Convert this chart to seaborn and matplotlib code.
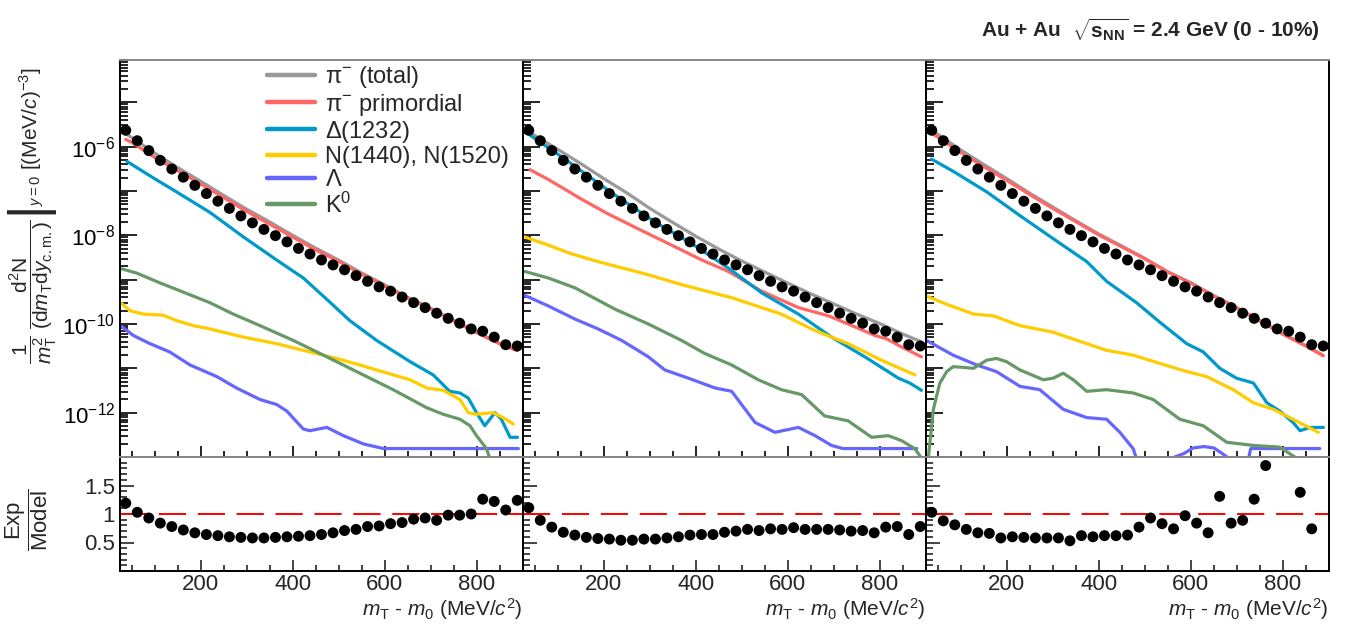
import matplotlib
matplotlib.use("Agg")
import matplotlib.pyplot as plt
import matplotlib.ticker as mticker
from matplotlib.lines import Line2D
import numpy as np
import seaborn as sns

# ---------------- data ----------------
mt_points = [37.5 + 25 * i for i in range(35)]
exp_yield = [2.34e-6, 1.36e-6, 8.15e-7, 4.89e-7, 3.13e-7, 2.05e-7, 1.34e-7, 8.73e-8,
             5.89e-8, 4.05e-8, 2.74e-8, 1.91e-8, 1.36e-8, 9.84e-9, 7.11e-9, 5.06e-9,
             3.78e-9, 2.78e-9, 2.15e-9, 1.67e-9, 1.23e-9, 9.18e-10, 6.87e-10, 5.51e-10,
             4.05e-10, 3.03e-10, 2.34e-10, 1.75e-10, 1.34e-10, 1.04e-10, 7.74e-11,
             6.87e-11, 5.06e-11, 3.41e-11, 3.19e-11]

ratio_left = [1.19, 1.03, 0.93, 0.84, 0.78, 0.72, 0.67, 0.64, 0.62, 0.60, 0.59, 0.58,
              0.58, 0.59, 0.60, 0.61, 0.62, 0.64, 0.67, 0.71, 0.73, 0.78, 0.79, 0.83,
              0.85, 0.91, 0.93, 0.89, 0.98, 0.98, 1.00, 1.26, 1.22, 1.07, 1.24]
ratio_mid = [1.11, 0.89, 0.77, 0.68, 0.63, 0.59, 0.57, 0.56, 0.54, 0.54, 0.56, 0.56,
             0.58, 0.60, 0.63, 0.64, 0.64, 0.68, 0.70, 0.73, 0.71, 0.74, 0.73, 0.76,
             0.73, 0.73, 0.73, 0.72, 0.70, 0.71, 0.67, 0.77, 0.78, 0.64, 0.78]
ratio_right = [1.03, 0.88, 0.81, 0.73, 0.67, 0.66, 0.58, 0.60, 0.59, 0.58, 0.58, 0.58,
               0.53, 0.62, 0.60, 0.62, 0.62, 0.63, 0.77, 0.93, 0.83, 0.74, 0.97, 0.84,
               0.67, 1.31, 0.84, 0.89, 1.26, 1.85, np.nan, np.nan, 1.38, 0.74, np.nan]

mt_grid = [37.5, 50, 100, 150, 200, 250, 300, 350, 400, 450, 500, 550, 600, 650,
           700, 750, 800, 850, 887.5]

# left panel model
left_total = [1.97e-6, 1.62e-6, 7.14e-7, 3.38e-7, 1.66e-7, 7.94e-8, 3.89e-8, 2.00e-8,
              1.00e-8, 5.13e-9, 2.75e-9, 1.41e-9, 7.59e-10, 3.98e-10, 2.24e-10,
              1.20e-10, 6.46e-11, 3.63e-11, 2.57e-11]
left_prim = [1.45e-6, 1.26e-6, 5.75e-7, 2.88e-7, 1.45e-7, 7.08e-8, 3.47e-8, 1.78e-8,
             9.12e-9, 4.68e-9, 2.57e-9, 1.32e-9, 7.24e-10, 3.80e-10, 2.19e-10,
             1.17e-10, 6.31e-11, 3.55e-11, 2.51e-11]
left_delta_x = [40, 97, 148, 220, 293, 365, 423, 474, 524, 582, 655, 705, 741, 763, 781,
                799, 817, 839, 853, 872, 888]
left_delta = [4.65e-7, 1.98e-7, 9.51e-8, 3.30e-8, 9.18e-9, 2.78e-9, 1.09e-9, 3.60e-10,
              1.19e-10, 4.27e-11, 1.41e-11, 7.11e-12, 3.03e-12, 2.78e-12, 2.15e-12,
              1.00e-12, 5.06e-13, 1.00e-12, 7.11e-13, 2.78e-13, 2.78e-13]
left_nstar_x = [29, 47, 76, 119, 148, 184, 220, 293, 365, 408, 437, 495, 546, 582, 655,
                691, 727, 763, 781, 799, 835, 857, 879]
left_nstar = [2.88e-10, 1.98e-10, 1.67e-10, 1.58e-10, 1.19e-10, 9.18e-11, 7.74e-11,
              5.06e-11, 3.60e-11, 2.78e-11, 2.34e-11, 1.67e-11, 1.19e-11, 9.18e-12,
              5.51e-12, 3.60e-12, 3.19e-12, 1.98e-12, 1.00e-12, 9.18e-13, 1.00e-12,
              7.74e-13, 5.51e-13]
left_lambda_x = [29, 54, 90, 133, 177, 235, 278, 329, 365, 387, 423, 437, 474, 510, 553,
                 597, 620, 890]
left_lambda = [8.73e-11, 5.51e-11, 3.60e-11, 2.34e-11, 1.19e-11, 6.53e-12, 3.60e-12,
               1.98e-12, 1.53e-12, 1.09e-12, 4.27e-13, 3.92e-13, 4.65e-13, 3.03e-13,
               1.98e-13, 1.55e-13, 1.55e-13, 1.55e-13]
left_k0_x = [29, 61, 112, 148, 220, 271, 329, 401, 474, 546, 618, 691, 727, 763, 785,
             799, 821, 835]
left_k0 = [1.75e-9, 1.41e-9, 8.43e-10, 6.00e-10, 3.03e-10, 1.67e-10, 9.18e-11, 4.27e-11,
           1.82e-11, 7.74e-12, 3.30e-12, 1.29e-12, 9.18e-13, 7.11e-13, 5.06e-13,
           3.03e-13, 1.53e-13, 5.5e-14]

# middle panel model
mid_total = [2.11e-6, 1.80e-6, 8.71e-7, 4.17e-7, 1.91e-7, 9.12e-8, 4.07e-8, 1.95e-8,
             9.55e-9, 4.90e-9, 2.63e-9, 1.48e-9, 8.32e-10, 4.79e-10, 2.82e-10,
             1.66e-10, 1.02e-10, 5.89e-11, 4.07e-11]
mid_prim_x = [40, 80, 152, 210, 282, 355, 413, 471, 543, 623, 688, 731, 789, 814, 847, 890]
mid_prim = [3.03e-7, 1.82e-7, 6.53e-8, 3.03e-8, 1.29e-8, 5.51e-9, 2.78e-9, 1.53e-9,
            5.51e-10, 2.34e-10, 1.53e-10, 1.00e-10, 5.51e-11, 4.65e-11, 3.03e-11, 1.82e-11]
mid_delta_x = [40, 116, 217, 312, 391, 471, 543, 623, 695, 767, 840, 865, 890]
mid_delta = [1.82e-6, 5.24e-7, 9.18e-8, 1.98e-8, 6.53e-9, 1.82e-9, 5.06e-10, 1.67e-10,
             5.06e-11, 1.82e-11, 6.00e-12, 4.65e-12, 3.19e-12]
mid_nstar_x = [29, 80, 127, 188, 297, 369, 478, 586, 659, 731, 803, 876]
mid_nstar = [9.18e-9, 6.00e-9, 3.92e-9, 2.55e-9, 1.29e-9, 7.74e-10, 3.92e-10, 1.67e-10,
             7.11e-11, 3.60e-11, 1.53e-11, 7.11e-12]
mid_lambda_x = [29, 80, 138, 188, 239, 297, 333, 384, 442, 478, 529, 572, 623, 659, 695,
                720, 880]
mid_lambda = [4.41e-10, 2.55e-10, 1.29e-10, 7.74e-11, 4.27e-11, 1.82e-11, 9.18e-12,
              6.00e-12, 3.60e-12, 3.03e-12, 6.00e-13, 3.60e-13, 4.65e-13, 3.03e-13,
              1.82e-13, 1.55e-13, 1.55e-13]
mid_k0_x = [29, 80, 138, 225, 297, 369, 420, 478, 536, 586, 630, 680, 731, 782, 818,
            847, 876, 895]
mid_k0 = [1.53e-9, 1.09e-9, 6.53e-10, 2.15e-10, 1.00e-10, 4.27e-11, 2.15e-11, 1.19e-11,
          5.51e-12, 3.30e-12, 2.55e-12, 8.43e-13, 6.53e-13, 2.78e-13, 3.03e-13,
          2.34e-13, 1.53e-13, 8e-14]

# right panel model
right_total = [2.29e-6, 1.91e-6, 8.51e-7, 3.98e-7, 1.91e-7, 8.91e-8, 4.37e-8, 2.14e-8,
               1.07e-8, 5.75e-9, 3.02e-9, 1.51e-9, 8.51e-10, 4.37e-10, 2.34e-10,
               1.20e-10, 6.03e-11, 3.24e-11, 1.95e-11]
right_prim = [2.00e-6, 1.66e-6, 7.41e-7, 3.55e-7, 1.74e-7, 8.32e-8, 4.07e-8, 2.04e-8,
              1.02e-8, 5.50e-9, 2.95e-9, 1.48e-9, 8.32e-10, 4.27e-10, 2.29e-10,
              1.17e-10, 5.89e-11, 3.16e-11, 1.91e-11]
right_delta_x = [37, 84, 157, 229, 301, 374, 417, 482, 533, 591, 627, 663, 699, 736,
                 765, 793, 822, 837, 859, 888]
right_delta = [5.24e-7, 2.78e-7, 9.51e-8, 2.78e-8, 8.43e-9, 2.55e-9, 9.18e-10, 3.03e-10,
               1.09e-10, 3.60e-11, 2.34e-11, 1.00e-11, 6.00e-12, 4.65e-12, 1.67e-12,
               1.09e-12, 6.00e-13, 3.92e-13, 4.65e-13, 4.65e-13]
right_nstar_x = [26, 70, 128, 171, 229, 301, 374, 417, 475, 533, 584, 634, 692, 736,
                 779, 822, 877]
right_nstar = [4.27e-10, 2.78e-10, 1.67e-10, 1.53e-10, 9.18e-11, 6.53e-11, 3.60e-11,
               2.55e-11, 1.98e-11, 1.29e-11, 8.87e-12, 6.53e-12, 3.30e-12, 1.67e-12,
               1.19e-12, 7.11e-13, 3.60e-13]
right_lambda_x = [26, 84, 135, 178, 229, 272, 323, 374, 417, 446, 475, 490, 585, 605,
                  628, 650, 668, 720, 730, 880]
right_lambda = [4.27e-11, 1.98e-11, 1.19e-11, 8.43e-12, 3.92e-12, 3.30e-12, 1.19e-12,
                7.74e-13, 7.11e-13, 3.60e-13, 1.53e-13, 5e-14, 1.2e-13, 1.6e-13, 1.72e-13,
                1.6e-13, 1.2e-13, 5e-14, 1.55e-13, 1.55e-13]
right_k0_x = [25, 41, 55, 70, 84, 106, 128, 157, 178, 200, 229, 280, 301, 323, 345, 374,
              417, 475, 518, 576, 627, 678, 736, 793, 840]
right_k0 = [3e-14, 1.19e-12, 4.65e-12, 8.43e-12, 1.09e-11, 1.05e-11, 1.00e-11, 1.53e-11,
            1.67e-11, 1.41e-11, 9.18e-12, 5.51e-12, 6.00e-12, 7.74e-12, 5.51e-12,
            3.03e-12, 3.30e-12, 2.78e-12, 1.98e-12, 7.11e-13, 5.06e-13, 2.15e-13,
            1.82e-13, 1.67e-13, 8e-14]

labels = [r"$\mathrm{\pi}^{-}$ (total)", r"$\mathrm{\pi}^{-}$ primordial", r"$\Delta$(1232)",
          "N(1440), N(1520)", r"$\Lambda$", r"K$^{0}$"]
colors = ["#999999", "#ff6666", "#0099cc", "#ffcc00", "#6666ff", "#669966"]

# ---------------- style ----------------
sns.set_theme(style="ticks")
plt.rcParams['font.family'] = ['Liberation Sans', 'DejaVu Sans']
plt.rcParams['mathtext.fontset'] = 'custom'
plt.rcParams['mathtext.rm'] = 'Liberation Sans'
plt.rcParams['mathtext.it'] = 'Liberation Sans:italic'
plt.rcParams['mathtext.bf'] = 'Liberation Sans:bold'

fig = plt.figure(figsize=(13.45, 6.25), dpi=100)

panels = [
    [(mt_grid, left_total), (mt_grid, left_prim), (left_delta_x, left_delta),
     (left_nstar_x, left_nstar), (left_lambda_x, left_lambda), (left_k0_x, left_k0)],
    [(mt_grid, mid_total), (mid_prim_x, mid_prim), (mid_delta_x, mid_delta),
     (mid_nstar_x, mid_nstar), (mid_lambda_x, mid_lambda), (mid_k0_x, mid_k0)],
    [(mt_grid, right_total), (mt_grid, right_prim), (right_delta_x, right_delta),
     (right_nstar_x, right_nstar), (right_lambda_x, right_lambda), (right_k0_x, right_k0)],
]
ratios = [ratio_left, ratio_mid, ratio_right]

W, H = 1345, 625
x0, pw = 120, 403
top_y0, top_y1 = 60, 457
bot_y1 = 571

for i in range(3):
    left = (x0 + i * pw) / W
    ax = fig.add_axes([left, 1 - top_y1 / H, pw / W, (top_y1 - top_y0) / H])
    rax = fig.add_axes([left, 1 - bot_y1 / H, pw / W, (bot_y1 - top_y1) / H])

    for (xs, ys), c in zip(panels[i], colors):
        sns.lineplot(x=xs, y=ys, ax=ax, color=c, lw=2.3, estimator=None, sort=False)
    sns.scatterplot(x=mt_points, y=exp_yield, ax=ax, color="black", s=62,
                    edgecolor="none", zorder=5)

    ax.set_yscale("log")
    ax.set_ylim(1.4e-13, 9e-5)
    ax.set_xlim(25, 900)
    ax.set_yticks([10.0 ** e for e in range(-13, -4)])
    ax.set_yticklabels(["" if e % 2 else r"$10^{%d}$" % e for e in range(-13, -4)]
                       if i == 0 else [""] * 9)
    ax.yaxis.set_minor_locator(mticker.LogLocator(base=10, subs=np.arange(2, 10), numticks=30))
    ax.yaxis.set_minor_formatter(mticker.NullFormatter())
    ax.xaxis.set_major_locator(mticker.MultipleLocator(200))
    ax.xaxis.set_minor_locator(mticker.MultipleLocator(50))
    ax.tick_params(axis="x", labelbottom=False)
    ax.tick_params(axis="both", which="both", direction="in", top=False, right=False,
                   labelsize=16, width=1.2, colors="black")
    ax.tick_params(axis="y", which="major", length=12)
    ax.tick_params(axis="y", which="minor", length=6)
    ax.tick_params(axis="x", which="major", length=8)
    ax.tick_params(axis="x", which="minor", length=4)
    ax.set_xlabel("")
    ax.set_ylabel("")
    for s in ax.spines.values():
        s.set_linewidth(1.4)
        s.set_color("black")
    ax.spines["top"].set_color("#888888")

    # ratio panel
    rax.axhline(1, color="red", lw=1.4, dashes=(14, 6), zorder=1)
    sns.scatterplot(x=mt_points, y=ratios[i], ax=rax, color="black", s=62,
                    edgecolor="none", zorder=5)
    rax.set_xlim(25, 900)
    rax.set_ylim(0, 2)
    rax.set_yticks([0.5, 1, 1.5])
    rax.set_yticklabels(["0.5", "1", "1.5"] if i == 0 else ["", "", ""])
    rax.yaxis.set_minor_locator(mticker.MultipleLocator(0.1))
    rax.xaxis.set_major_locator(mticker.MultipleLocator(200))
    rax.xaxis.set_minor_locator(mticker.MultipleLocator(50))
    rax.tick_params(axis="both", which="both", direction="in", top=False, right=False,
                    labelsize=16, width=1.2)
    rax.tick_params(axis="y", which="major", length=10)
    rax.tick_params(axis="y", which="minor", length=5)
    rax.tick_params(axis="x", which="major", length=8, pad=2)
    rax.tick_params(axis="x", which="minor", length=4)
    rax.set_ylabel("")
    rax.set_xlabel(r"$m_{\mathrm{T}}$ - $m_{0}$ (MeV/$c^{2}$)", fontsize=15,
                   loc="right", labelpad=1)
    for s in rax.spines.values():
        s.set_linewidth(1.4)
        s.set_color("black")
    rax.spines["top"].set_color("#888888")

    if i == 0:
        handles = [Line2D([0], [0], color=c, lw=3.2) for c in colors]
        ax.legend(handles, labels, loc="upper left", bbox_to_anchor=(0.36, 0.995),
                  frameon=False, fontsize=17, handlelength=2.0, handletextpad=0.45,
                  labelspacing=0.05, borderpad=0.1, borderaxespad=0)

fig.text(0.024, 0.655,
         r"$\left.\dfrac{1}{m_{\mathrm{T}}^{2}}\ \dfrac{\mathrm{d}^{2}\mathrm{N}}{(\mathrm{d}m_{\mathrm{T}}\mathrm{d}y_{\mathrm{c.m.}})}\right|_{y=0}$ [(MeV/$c$)$^{-3}$]",
         rotation=90, ha="center", va="center", fontsize=15)
fig.text(0.02, 0.168, r"$\dfrac{\mathrm{Exp}}{\mathrm{Model}}$", rotation=90,
         ha="center", va="center", fontsize=16)
fig.text(0.981, 0.952, r"Au + Au  $\sqrt{\mathbf{s}_{\mathbf{NN}}}$ = 2.4 GeV (0 - 10%)",
         ha="right", va="center", fontsize=15, fontweight="bold")

fig.savefig("out.png", dpi=100)
